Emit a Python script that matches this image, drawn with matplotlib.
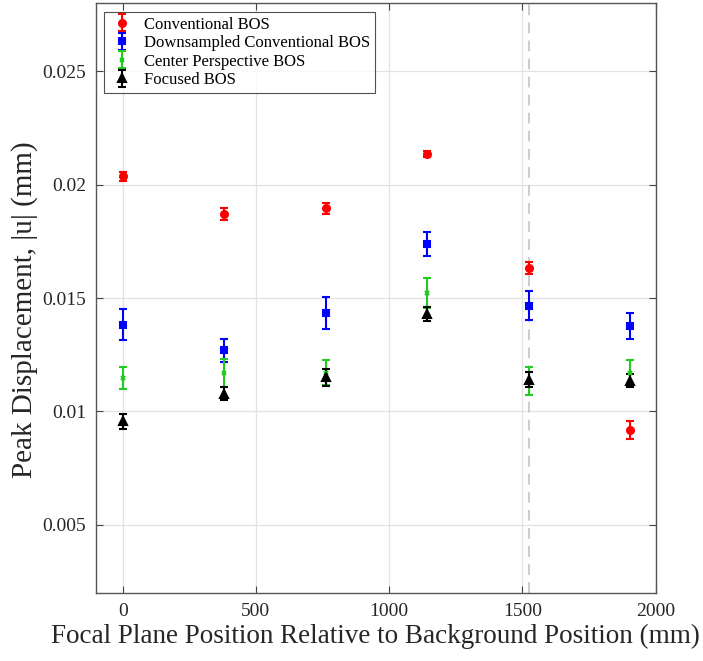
import numpy as np
import matplotlib.pyplot as plt

# focal plane positions (mm)
pos = [0, 381, 762, 1143, 1524, 1905]

conv = [0.02038, 0.01871, 0.01896, 0.02137, 0.01633, 0.00918]
conv_err = [0.00020, 0.00028, 0.00024, 0.00013, 0.00028, 0.00038]

down = [0.01382, 0.01269, 0.01434, 0.01738, 0.01466, 0.01376]
down_err = [0.00068, 0.00049, 0.00070, 0.00052, 0.00064, 0.00058]

center = [0.01148, 0.01170, 0.01171, 0.01522, 0.01135, 0.01168]
center_err = [0.00048, 0.00061, 0.00055, 0.00065, 0.00063, 0.00057]

focused = [0.00957, 0.01079, 0.01151, 0.01429, 0.01141, 0.01136]
focused_err = [0.00034, 0.00027, 0.00038, 0.00032, 0.00031, 0.00029]

labels = ["Conventional BOS", "Downsampled Conventional BOS",
          "Center Perspective BOS", "Focused BOS"]

bg_line = 1524

plt.rcParams['font.family'] = ['Liberation Serif', 'DejaVu Serif']

fig = plt.figure(figsize=(7.03, 6.61), dpi=100)
ax = fig.add_axes([0.1366, 0.103, 0.7961, 0.892])

ax.axvline(bg_line, color='#c8c8c8', ls=(0, (6, 4)), lw=1.3, zorder=1)

styles = [('r', 'o', 5), ('b', 's', 4.5), ('#1fcc1f', 'x', 3), ('k', '^', 6)]
series = [(conv, conv_err), (down, down_err), (center, center_err), (focused, focused_err)]
for (y, e), (c, m, ms), lab in zip(series, styles, labels):
    ax.errorbar(pos, y, yerr=e, fmt=m, color=c, ms=ms, mew=1.5, capsize=3,
                elinewidth=1.5, capthick=1.5, label=lab, zorder=3)

ax.set_xlim(-100, 2000)
ax.set_ylim(0.002, 0.028)
ax.set_xticks([0, 500, 1000, 1500, 2000])
ax.set_yticks([0.005, 0.01, 0.015, 0.02, 0.025])
ax.set_yticklabels(['0.005', '0.01', '0.015', '0.02', '0.025'])
ax.grid(True, color='#e2e2e2', lw=0.9)
ax.set_axisbelow(True)
ax.tick_params(direction='in', length=5, top=True, right=True,
               labelsize=14, color='#444444', labelcolor='#262626', pad=7)
for s in ax.spines.values():
    s.set_color('#555555')
    s.set_linewidth(1.0)

ax.set_xlabel("Focal Plane Position Relative to Background Position (mm)",
              fontsize=19.5, color='#262626', labelpad=3)
ax.set_ylabel("Peak Displacement, |u| (mm)", fontsize=21, color='#262626')
ax.yaxis.set_label_coords(-0.104, 0.48)

leg = ax.legend(loc='upper left', fontsize=12, frameon=True, fancybox=False,
                edgecolor='#262626', borderpad=0.3, labelspacing=0.15,
                handlelength=1.5, handletextpad=0.6, borderaxespad=0.5)
leg.get_frame().set_linewidth(0.8)

fig.savefig("out.png", dpi=100)
